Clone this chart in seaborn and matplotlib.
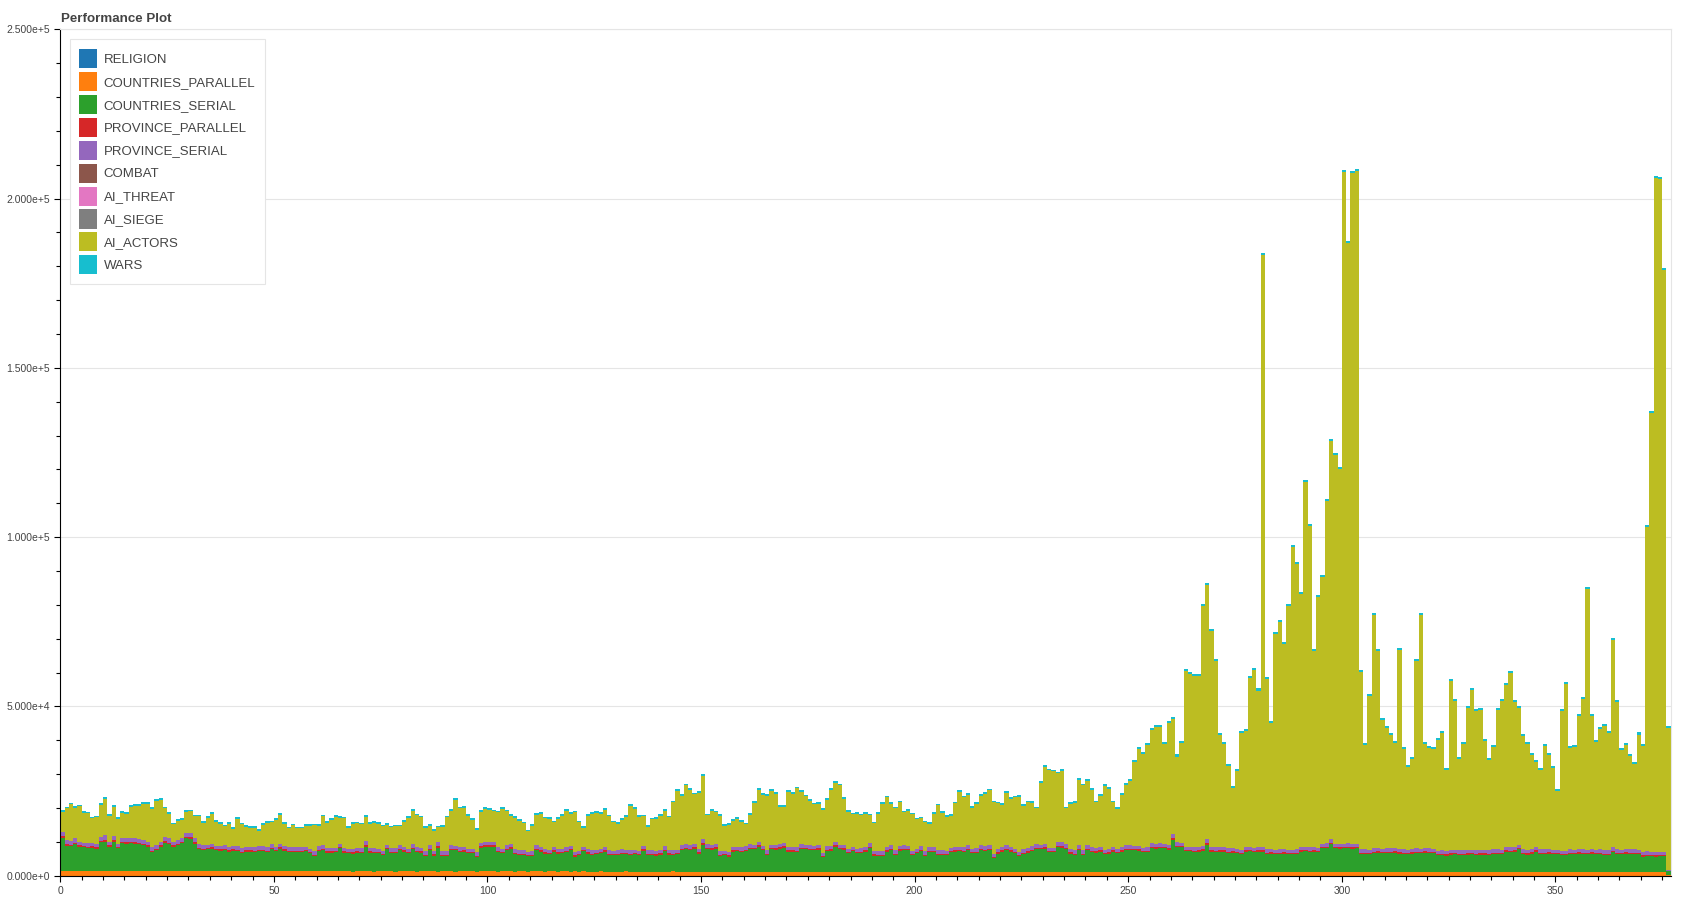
import matplotlib
matplotlib.use("Agg")
import matplotlib.pyplot as plt
import matplotlib.ticker as mticker
from matplotlib.patches import Patch
import numpy as np
import pandas as pd
import seaborn as sns

SERIES = [
    "RELIGION", "COUNTRIES_PARALLEL", "COUNTRIES_SERIAL", "PROVINCE_PARALLEL",
    "PROVINCE_SERIAL", "COMBAT", "AI_THREAT", "AI_SIEGE", "AI_ACTORS", "WARS",
]
COLORS = {
    "RELIGION": "#1f77b4",
    "COUNTRIES_PARALLEL": "#ff7f0e",
    "COUNTRIES_SERIAL": "#2ca02c",
    "PROVINCE_PARALLEL": "#d62728",
    "PROVINCE_SERIAL": "#9467bd",
    "COMBAT": "#8c564b",
    "AI_THREAT": "#e377c2",
    "AI_SIEGE": "#7f7f7f",
    "AI_ACTORS": "#bcbd22",
    "WARS": "#17becf",
}

# all values in thousands, one entry per sample (377 samples)
ai_actors = [
    6.1, 9.5, 10.8, 9.0, 10.4, 8.7, 8.7, 7.1, 7.7, 9.5, 10.9, 7.7, 8.7, 7.4, 7.4, 7.1, 9.1, 9.7, 9.8, 10.7,
    11.2, 11.2, 13.1, 12.3, 8.5, 7.2, 5.1, 5.7, 5.4, 6.2, 6.5, 6.4, 8.0, 6.6, 7.9, 8.8, 7.0, 6.6, 5.6, 6.8,
    5.1, 8.1, 7.1, 6.0, 5.7, 5.7, 4.5, 6.4, 7.2, 6.4, 7.8, 8.5, 6.6, 5.6, 6.5, 5.6, 5.6, 6.2, 6.8, 7.5,
    5.9, 8.4, 7.4, 8.2, 9.1, 7.7, 8.7, 6.1, 7.4, 7.3, 7.1, 7.2, 7.2, 7.5, 7.3, 7.3, 5.9, 6.2, 6.5, 5.6,
    7.5, 9.0, 9.9, 9.4, 9.0, 7.0, 5.7, 6.0, 4.4, 7.2, 10.0, 10.1, 13.5, 11.5, 11.5, 9.6, 8.5, 6.7, 9.1, 9.7,
    9.4, 8.9, 10.3, 11.7, 10.0, 8.3, 9.3, 8.8, 8.0, 6.0, 7.5, 8.9, 9.8, 9.0, 9.0, 7.2, 8.9, 9.6, 10.7, 9.3,
    11.7, 8.4, 5.5, 9.7, 10.8, 10.8, 10.2, 10.9, 10.0, 8.4, 7.9, 8.6, 9.7, 13.1, 12.0, 9.9, 8.6, 6.9, 9.1, 9.4,
    10.0, 10.4, 9.6, 14.2, 17.3, 14.6, 17.4, 16.3, 14.6, 16.5, 18.6, 8.5, 10.1, 9.3, 10.4, 7.3, 8.0, 7.7, 8.1, 7.6,
    6.5, 8.7, 12.4, 15.3, 14.9, 16.1, 15.9, 15.0, 10.9, 10.5, 16.2, 15.6, 17.4, 15.4, 14.2, 13.2, 12.2, 12.2, 12.6, 13.8,
    16.6, 17.4, 17.5, 13.7, 10.8, 9.5, 10.2, 9.7, 9.7, 8.1, 8.2, 11.0, 14.0, 14.6, 12.2, 12.4, 12.9, 9.7, 10.2, 10.7,
    8.6, 8.2, 8.6, 6.9, 9.9, 13.3, 11.1, 9.9, 9.3, 12.9, 16.2, 14.7, 14.8, 12.0, 13.2, 14.5, 15.4, 16.2, 15.2, 13.5,
    12.4, 15.4, 14.3, 15.1, 16.2, 12.8, 13.5, 12.9, 10.6, 18.2, 22.7, 22.8, 22.5, 20.2, 21.0, 10.6, 13.3, 14.1, 19.4, 19.2,
    19.1, 17.0, 13.5, 15.0, 18.9, 17.7, 13.2, 11.7, 15.3, 17.9, 19.1, 24.6, 28.5, 27.7, 30.1, 33.4, 34.4, 34.4, 29.4, 36.0,
    34.0, 25.3, 29.3, 51.9, 51.1, 50.5, 50.5, 70.9, 75.2, 63.7, 55.0, 33.1, 30.4, 24.2, 17.6, 23.0, 34.5, 34.3, 49.8, 52.4,
    46.2, 174.8, 50.3, 37.1, 63.6, 67.2, 60.4, 71.9, 89.4, 84.3, 74.6, 107.6, 94.8, 57.8, 73.9, 78.6, 101.0, 117.5, 114.8, 110.8,
    198.3, 177.3, 198.2, 198.7, 52.4, 30.9, 45.5, 68.8, 58.2, 37.9, 35.5, 33.5, 31.1, 58.9, 29.6, 24.4, 26.7, 55.4, 69.1, 30.8,
    29.5, 29.3, 32.6, 34.7, 23.9, 49.9, 43.9, 26.9, 31.3, 41.8, 47.2, 41.0, 41.3, 32.2, 26.7, 30.3, 41.2, 43.8, 47.7, 51.6,
    42.9, 40.2, 33.5, 31.3, 27.7, 25.1, 23.5, 30.6, 27.8, 24.0, 17.3, 41.3, 49.2, 29.8, 30.3, 39.2, 44.4, 76.9, 39.4, 31.7,
    35.4, 36.7, 34.6, 61.2, 43.5, 29.3, 30.6, 27.5, 25.3, 34.0, 31.3, 95.8, 129.5, 199.2, 198.7, 171.9, 42.1,
]

countries_serial = [
    9.6, 7.4, 7.4, 7.9, 7.2, 7.0, 6.7, 6.9, 6.6, 8.4, 8.6, 7.2, 8.6, 6.7, 8.1, 8.1, 8.3, 8.1, 7.9, 7.7,
    7.2, 5.7, 6.0, 7.2, 8.4, 8.0, 7.2, 7.7, 8.2, 9.6, 9.5, 8.1, 6.6, 6.1, 6.4, 6.6, 6.2, 6.0, 6.2, 5.7,
    6.0, 6.0, 5.4, 5.7, 5.7, 5.7, 5.9, 5.9, 5.7, 6.5, 5.8, 6.6, 6.1, 5.7, 5.7, 5.6, 5.6, 5.9, 5.2, 4.4,
    6.0, 6.2, 5.5, 5.5, 5.5, 6.8, 5.5, 5.3, 5.3, 5.5, 5.3, 7.3, 5.5, 5.5, 5.3, 4.7, 6.5, 5.5, 5.5, 6.3,
    5.8, 5.3, 6.5, 5.8, 5.5, 4.5, 6.3, 4.5, 7.1, 4.5, 4.5, 6.3, 6.3, 5.8, 5.8, 5.3, 5.3, 4.3, 7.0, 7.3,
    7.3, 7.3, 5.8, 5.3, 6.3, 6.7, 5.3, 4.8, 4.8, 4.5, 4.5, 6.3, 5.8, 5.3, 5.0, 5.8, 5.3, 5.3, 5.7, 6.3,
    4.3, 4.8, 5.9, 5.3, 4.9, 5.1, 5.3, 5.9, 5.0, 4.8, 4.9, 5.2, 5.0, 4.9, 5.1, 4.8, 6.1, 4.9, 5.0, 4.7,
    5.0, 6.1, 5.0, 4.8, 5.1, 6.4, 6.7, 6.5, 6.8, 5.4, 7.9, 6.7, 6.5, 6.8, 4.6, 4.8, 4.5, 5.9, 6.0, 5.8,
    6.1, 6.7, 6.6, 7.4, 6.4, 4.9, 6.7, 6.5, 6.8, 7.1, 5.9, 6.0, 5.8, 6.7, 6.6, 6.4, 6.3, 6.5, 4.4, 6.1,
    6.2, 7.4, 6.6, 6.5, 5.4, 6.1, 5.4, 5.5, 5.9, 6.9, 4.7, 4.6, 4.7, 5.9, 6.4, 4.9, 6.2, 6.4, 6.3, 4.9,
    5.4, 6.1, 4.6, 5.9, 5.8, 4.9, 5.0, 4.8, 5.7, 5.9, 6.0, 5.8, 6.4, 5.4, 5.5, 6.4, 6.1, 6.4, 3.9, 5.4,
    5.9, 6.4, 5.9, 5.4, 4.6, 5.2, 5.6, 6.1, 6.7, 6.6, 6.8, 5.8, 5.7, 7.2, 7.1, 6.7, 5.4, 4.9, 6.4, 4.9,
    6.4, 5.9, 5.6, 5.9, 5.1, 5.4, 5.9, 5.4, 5.9, 6.4, 6.4, 6.4, 6.3, 5.8, 5.9, 7.0, 6.9, 7.1, 7.0, 6.6,
    9.5, 7.4, 7.3, 6.0, 6.1, 5.9, 6.0, 6.3, 8.1, 6.0, 5.9, 6.1, 6.0, 5.6, 5.7, 5.5, 5.2, 6.0, 6.1, 5.9,
    6.0, 6.0, 5.3, 5.4, 5.2, 5.3, 5.4, 5.3, 5.2, 5.3, 6.0, 6.1, 5.9, 6.0, 5.9, 7.0, 7.1, 8.2, 7.0, 6.9,
    7.0, 7.1, 6.9, 7.0, 5.3, 5.4, 5.2, 5.6, 5.7, 5.5, 5.6, 5.6, 5.7, 5.5, 5.3, 5.2, 5.4, 5.6, 5.5, 5.7,
    5.6, 5.6, 4.9, 5.0, 4.8, 5.1, 5.2, 5.0, 5.1, 5.1, 5.2, 5.0, 5.1, 5.1, 5.0, 5.3, 5.4, 5.2, 6.0, 5.9,
    6.0, 6.7, 5.3, 5.2, 5.4, 6.0, 5.3, 5.3, 5.4, 5.2, 5.3, 4.9, 4.9, 5.3, 5.2, 5.4, 5.3, 5.3, 5.4, 5.2,
    5.3, 5.0, 5.0, 6.0, 5.3, 5.2, 5.4, 5.3, 5.3, 5.2, 4.6, 4.7, 4.6, 4.5, 4.6, 4.6, 1.0,
]

countries_parallel = [
    1.5, 1.5, 1.4, 1.5, 1.4, 1.4, 1.5, 1.4, 1.4, 1.5, 1.5, 1.4, 1.4, 1.4, 1.5, 1.4, 1.4, 1.4, 1.5, 1.4,
    1.4, 1.4, 1.5, 1.4, 1.4, 1.4, 1.4, 1.3, 1.4, 1.4, 1.4, 1.4, 1.3, 1.4, 1.4, 1.4, 1.3, 1.4, 1.4, 1.4,
    1.4, 1.3, 1.4, 1.4, 1.4, 1.3, 1.4, 1.4, 1.3, 1.4, 1.4, 1.4, 1.3, 1.4, 1.3, 1.4, 1.4, 1.3, 1.4, 1.4,
    1.3, 1.3, 1.3, 1.3, 1.4, 1.3, 1.3, 1.3, 1.2, 1.3, 1.3, 1.3, 1.3, 1.2, 1.3, 1.3, 1.3, 1.3, 1.2, 1.3,
    1.3, 1.3, 1.3, 1.2, 1.3, 1.3, 1.3, 1.3, 1.2, 1.3, 1.3, 1.3, 1.2, 1.3, 1.3, 1.3, 1.3, 1.2, 1.3, 1.3,
    1.3, 1.3, 1.2, 1.3, 1.3, 1.3, 1.2, 1.3, 1.3, 1.2, 1.3, 1.3, 1.3, 1.2, 1.3, 1.3, 1.2, 1.3, 1.3, 1.2,
    1.3, 1.2, 1.3, 1.2, 1.2, 1.2, 1.3, 1.2, 1.2, 1.2, 1.2, 1.2, 1.3, 1.2, 1.2, 1.2, 1.2, 1.2, 1.1, 1.2,
    1.2, 1.2, 1.2, 1.3, 1.2, 1.2, 1.2, 1.2, 1.2, 1.1, 1.2, 1.2, 1.2, 1.2, 1.2, 1.2, 1.1, 1.2, 1.2, 1.2,
    1.2, 1.2, 1.2, 1.2, 1.1, 1.2, 1.2, 1.2, 1.2, 1.2, 1.2, 1.1, 1.2, 1.2, 1.2, 1.2, 1.2, 1.2, 1.1, 1.2,
    1.2, 1.2, 1.2, 1.2, 1.2, 1.1, 1.2, 1.2, 1.2, 1.2, 1.2, 1.2, 1.1, 1.2, 1.2, 1.2, 1.2, 1.2, 1.2, 1.1,
    1.2, 1.2, 1.2, 1.2, 1.2, 1.2, 1.1, 1.2, 1.2, 1.2, 1.2, 1.2, 1.1, 1.2, 1.2, 1.2, 1.2, 1.2, 1.2, 1.1,
    1.2, 1.2, 1.2, 1.2, 1.1, 1.2, 1.2, 1.2, 1.2, 1.2, 1.2, 1.1, 1.2, 1.2, 1.2, 1.2, 1.1, 1.2, 1.2, 1.2,
    1.2, 1.1, 1.2, 1.2, 1.2, 1.1, 1.2, 1.2, 1.2, 1.2, 1.2, 1.1, 1.1, 1.1, 1.1, 1.2, 1.1, 1.1, 1.1, 1.1,
    1.1, 1.1, 1.1, 1.2, 1.1, 1.1, 1.1, 1.1, 1.1, 1.1, 1.1, 1.0, 1.1, 1.1, 1.1, 1.1, 1.1, 1.1, 1.1, 1.0,
    1.1, 1.1, 1.1, 1.1, 1.1, 1.1, 1.1, 1.0, 1.1, 1.1, 1.1, 1.1, 1.1, 1.1, 1.0, 1.1, 1.1, 1.1, 1.1, 1.1,
    1.1, 1.1, 1.1, 1.1, 1.1, 1.0, 1.1, 1.1, 1.1, 1.1, 1.1, 1.1, 1.1, 1.0, 1.1, 1.1, 1.1, 1.1, 1.1, 1.1,
    1.1, 1.0, 1.1, 1.1, 1.1, 1.1, 1.1, 1.1, 1.0, 1.1, 1.1, 1.1, 1.1, 1.1, 1.1, 1.1, 1.0, 1.1, 1.1, 1.1,
    1.1, 1.1, 1.1, 1.0, 1.1, 1.1, 1.1, 1.1, 1.1, 1.1, 1.0, 1.1, 1.1, 1.1, 1.1, 1.1, 1.1, 1.0, 1.1, 1.1,
    1.1, 1.1, 1.1, 1.0, 1.1, 1.1, 1.1, 1.1, 1.1, 1.1, 1.0, 1.1, 1.1, 1.1, 1.1, 1.1, 0.3,
]

province_parallel = [
    0.5, 0.4, 0.4, 0.4, 0.4, 0.4, 0.3, 0.4, 0.4, 0.4, 0.5, 0.4, 0.4, 0.3, 0.4, 0.4, 0.4, 0.4, 0.4, 0.4,
    0.4, 0.3, 0.4, 0.4, 0.4, 0.4, 0.4, 0.4, 0.4, 0.5, 0.4, 0.4, 0.4, 0.4, 0.3, 0.4, 0.4, 0.4, 0.4, 0.4,
    0.4, 0.4, 0.3, 0.4, 0.4, 0.4, 0.4, 0.4, 0.4, 0.4, 0.4, 0.4, 0.4, 0.3, 0.4, 0.4, 0.4, 0.4, 0.4, 0.4,
    0.4, 0.4, 0.4, 0.4, 0.4, 0.3, 0.4, 0.4, 0.4, 0.4, 0.5, 0.4, 0.4, 0.4, 0.4, 0.4, 0.4, 0.3, 0.4, 0.4,
    0.4, 0.4, 0.4, 0.4, 0.4, 0.4, 0.4, 0.5, 0.4, 0.4, 0.4, 0.4, 0.4, 0.3, 0.4, 0.4, 0.4, 0.4, 0.4, 0.4,
    0.4, 0.4, 0.4, 0.4, 0.4, 0.4, 0.3, 0.4, 0.4, 0.4, 0.4, 0.4, 0.4, 0.4, 0.4, 0.5, 0.4, 0.4, 0.4, 0.4,
    0.4, 0.4, 0.4, 0.4, 0.4, 0.4, 0.4, 0.4, 0.3, 0.4, 0.4, 0.4, 0.4, 0.4, 0.4, 0.4, 0.5, 0.4, 0.4, 0.4,
    0.4, 0.4, 0.4, 0.4, 0.4, 0.4, 0.4, 0.3, 0.4, 0.4, 0.5, 0.4, 0.4, 0.4, 0.4, 0.4, 0.4, 0.4, 0.4, 0.4,
    0.4, 0.4, 0.4, 0.4, 0.4, 0.4, 0.3, 0.4, 0.4, 0.4, 0.4, 0.4, 0.4, 0.4, 0.4, 0.4, 0.4, 0.4, 0.3, 0.4,
    0.4, 0.4, 0.4, 0.4, 0.4, 0.4, 0.4, 0.4, 0.4, 0.5, 0.4, 0.4, 0.4, 0.4, 0.4, 0.4, 0.4, 0.4, 0.4, 0.4,
    0.4, 0.4, 0.4, 0.3, 0.4, 0.4, 0.4, 0.4, 0.4, 0.4, 0.4, 0.4, 0.4, 0.4, 0.4, 0.4, 0.4, 0.4, 0.4, 0.4,
    0.4, 0.4, 0.4, 0.4, 0.4, 0.4, 0.4, 0.4, 0.4, 0.4, 0.4, 0.4, 0.4, 0.5, 0.5, 0.4, 0.4, 0.4, 0.4, 0.4,
    0.4, 0.4, 0.4, 0.4, 0.4, 0.4, 0.4, 0.4, 0.4, 0.4, 0.4, 0.4, 0.4, 0.4, 0.4, 0.4, 0.4, 0.4, 0.4, 0.4,
    0.5, 0.4, 0.4, 0.4, 0.4, 0.4, 0.4, 0.4, 0.5, 0.4, 0.4, 0.4, 0.4, 0.4, 0.4, 0.4, 0.4, 0.4, 0.4, 0.4,
    0.4, 0.4, 0.4, 0.4, 0.4, 0.4, 0.4, 0.4, 0.4, 0.4, 0.4, 0.4, 0.4, 0.4, 0.4, 0.4, 0.4, 0.5, 0.4, 0.4,
    0.4, 0.4, 0.4, 0.4, 0.4, 0.4, 0.4, 0.4, 0.4, 0.4, 0.4, 0.4, 0.4, 0.4, 0.4, 0.4, 0.4, 0.4, 0.4, 0.4,
    0.4, 0.4, 0.4, 0.4, 0.4, 0.4, 0.4, 0.4, 0.4, 0.4, 0.4, 0.4, 0.4, 0.4, 0.4, 0.4, 0.4, 0.4, 0.4, 0.4,
    0.4, 0.4, 0.4, 0.4, 0.4, 0.4, 0.4, 0.4, 0.4, 0.4, 0.4, 0.4, 0.4, 0.4, 0.4, 0.4, 0.4, 0.4, 0.4, 0.4,
    0.4, 0.4, 0.4, 0.4, 0.4, 0.4, 0.4, 0.4, 0.4, 0.4, 0.4, 0.4, 0.4, 0.4, 0.4, 0.4, 0.1,
]

province_serial = [
    1.2, 1.1, 1.1, 1.3, 1.1, 1.0, 1.2, 1.1, 1.1, 1.2, 1.3, 0.9, 1.3, 1.0, 1.2, 1.2, 1.1, 1.1, 1.1, 1.0,
    1.0, 1.1, 1.1, 1.1, 1.2, 1.2, 1.1, 1.1, 1.1, 1.2, 1.2, 1.2, 1.2, 1.1, 1.0, 1.0, 1.0, 1.0, 1.0, 1.1,
    1.0, 1.0, 1.0, 1.0, 1.0, 1.0, 1.0, 1.0, 1.0, 1.1, 1.0, 1.1, 1.0, 1.0, 1.0, 1.0, 1.0, 1.0, 1.0, 1.2,
    1.1, 1.2, 1.0, 1.0, 1.0, 1.0, 1.0, 1.0, 1.0, 1.0, 1.0, 1.2, 1.0, 1.0, 1.0, 0.9, 1.0, 1.0, 1.0, 1.0,
    1.0, 1.0, 1.1, 1.0, 1.0, 1.0, 1.0, 1.0, 1.2, 1.0, 1.0, 1.0, 1.0, 1.0, 1.0, 1.0, 1.0, 1.0, 1.0, 1.1,
    1.1, 1.1, 1.0, 1.0, 1.0, 1.0, 1.0, 1.0, 1.0, 1.0, 1.0, 1.0, 1.0, 1.0, 1.0, 1.0, 1.0, 1.0, 1.0, 1.0,
    1.0, 1.0, 1.0, 1.0, 1.0, 1.0, 1.0, 1.1, 1.0, 1.0, 1.0, 1.0, 1.0, 1.0, 1.0, 1.0, 1.1, 1.0, 1.0, 1.0,
    1.0, 1.1, 1.0, 1.0, 1.0, 1.0, 1.0, 1.0, 1.0, 1.0, 1.2, 1.0, 1.0, 1.0, 1.0, 1.0, 1.0, 1.0, 1.0, 1.0,
    1.0, 1.0, 1.0, 1.1, 1.0, 1.0, 1.0, 1.0, 1.0, 1.1, 1.0, 1.0, 1.0, 1.0, 1.0, 1.0, 1.0, 1.0, 1.0, 1.0,
    1.0, 1.1, 1.0, 1.0, 1.0, 1.0, 1.0, 1.0, 1.0, 1.1, 1.0, 1.0, 1.0, 1.0, 1.0, 1.0, 1.0, 1.0, 1.0, 1.0,
    1.0, 1.0, 1.0, 1.0, 1.0, 1.0, 1.0, 1.0, 1.0, 1.0, 1.0, 1.0, 1.1, 1.0, 1.0, 1.0, 1.0, 1.0, 1.0, 1.0,
    1.0, 1.0, 1.0, 1.0, 1.0, 1.0, 1.0, 1.0, 1.0, 1.0, 1.0, 1.0, 1.0, 1.1, 1.1, 1.0, 1.0, 1.0, 1.0, 1.0,
    1.0, 1.0, 1.0, 1.0, 1.0, 1.0, 1.0, 1.0, 1.0, 1.0, 1.0, 1.0, 1.0, 1.0, 1.0, 1.0, 1.0, 1.0, 1.0, 1.0,
    1.1, 1.0, 1.0, 1.0, 1.0, 1.0, 1.0, 1.0, 1.1, 1.0, 1.0, 1.0, 1.0, 1.0, 1.0, 1.0, 1.0, 1.0, 1.0, 1.0,
    1.0, 1.0, 1.0, 1.0, 1.0, 1.0, 1.0, 1.0, 1.0, 1.0, 1.0, 1.0, 1.0, 1.0, 1.0, 1.0, 1.0, 1.1, 1.0, 1.0,
    1.0, 1.0, 1.0, 1.0, 1.0, 1.0, 1.0, 1.0, 1.0, 1.0, 1.0, 1.0, 1.0, 1.0, 1.0, 1.0, 1.0, 1.0, 1.0, 1.0,
    1.0, 1.0, 1.0, 1.0, 1.0, 1.0, 1.0, 1.0, 1.0, 1.0, 1.0, 1.0, 1.0, 1.0, 1.0, 1.0, 1.0, 1.0, 1.0, 1.0,
    1.0, 1.0, 1.0, 1.0, 1.0, 1.0, 1.0, 1.0, 1.0, 1.0, 1.0, 1.0, 1.0, 1.0, 1.0, 1.0, 1.0, 1.0, 1.0, 1.0,
    1.0, 1.0, 1.0, 1.0, 1.0, 1.0, 1.0, 1.0, 1.0, 1.0, 1.0, 1.0, 1.0, 1.0, 1.0, 1.0, 0.2,
]

wars = [
    0.5, 0.5, 0.5, 0.5, 0.5, 0.5, 0.5, 0.5, 0.5, 0.5, 0.5, 0.5, 0.5, 0.5, 0.5, 0.5, 0.5, 0.5, 0.5, 0.5,
    0.5, 0.5, 0.5, 0.5, 0.5, 0.5, 0.5, 0.5, 0.5, 0.5, 0.5, 0.5, 0.5, 0.5, 0.5, 0.5, 0.5, 0.5, 0.5, 0.5,
    0.5, 0.5, 0.5, 0.5, 0.5, 0.5, 0.5, 0.5, 0.5, 0.5, 0.5, 0.5, 0.5, 0.5, 0.5, 0.5, 0.5, 0.5, 0.5, 0.5,
    0.5, 0.5, 0.5, 0.5, 0.5, 0.5, 0.5, 0.5, 0.5, 0.5, 0.5, 0.5, 0.5, 0.5, 0.5, 0.5, 0.5, 0.5, 0.5, 0.5,
    0.5, 0.5, 0.5, 0.5, 0.5, 0.5, 0.5, 0.5, 0.5, 0.5, 0.5, 0.5, 0.5, 0.5, 0.5, 0.5, 0.5, 0.5, 0.5, 0.5,
    0.5, 0.5, 0.5, 0.5, 0.5, 0.5, 0.5, 0.5, 0.5, 0.5, 0.5, 0.5, 0.5, 0.5, 0.5, 0.5, 0.5, 0.5, 0.5, 0.5,
    0.5, 0.5, 0.5, 0.5, 0.5, 0.5, 0.5, 0.5, 0.5, 0.5, 0.5, 0.5, 0.5, 0.5, 0.5, 0.5, 0.5, 0.5, 0.5, 0.5,
    0.5, 0.5, 0.5, 0.5, 0.5, 0.5, 0.5, 0.5, 0.5, 0.5, 0.5, 0.5, 0.5, 0.5, 0.5, 0.5, 0.5, 0.5, 0.5, 0.5,
    0.5, 0.5, 0.5, 0.5, 0.5, 0.5, 0.5, 0.5, 0.5, 0.5, 0.5, 0.5, 0.5, 0.5, 0.5, 0.5, 0.5, 0.5, 0.5, 0.5,
    0.5, 0.5, 0.5, 0.5, 0.5, 0.5, 0.5, 0.5, 0.5, 0.5, 0.5, 0.5, 0.5, 0.5, 0.5, 0.5, 0.5, 0.5, 0.5, 0.5,
    0.5, 0.5, 0.5, 0.5, 0.5, 0.5, 0.5, 0.5, 0.5, 0.5, 0.5, 0.5, 0.5, 0.5, 0.5, 0.5, 0.5, 0.5, 0.5, 0.5,
    0.5, 0.5, 0.5, 0.5, 0.5, 0.5, 0.5, 0.5, 0.5, 0.5, 0.5, 0.5, 0.5, 0.5, 0.5, 0.5, 0.5, 0.5, 0.5, 0.5,
    0.5, 0.5, 0.5, 0.5, 0.5, 0.5, 0.5, 0.5, 0.5, 0.5, 0.5, 0.6, 0.6, 0.6, 0.6, 0.6, 0.6, 0.6, 0.6, 0.6,
    0.6, 0.6, 0.6, 0.6, 0.6, 0.6, 0.6, 0.6, 0.6, 0.6, 0.6, 0.6, 0.6, 0.6, 0.6, 0.6, 0.6, 0.6, 0.6, 0.6,
    0.6, 0.6, 0.6, 0.6, 0.6, 0.6, 0.6, 0.6, 0.6, 0.6, 0.6, 0.6, 0.6, 0.6, 0.6, 0.6, 0.6, 0.6, 0.6, 0.6,
    0.6, 0.6, 0.6, 0.6, 0.6, 0.6, 0.6, 0.6, 0.6, 0.6, 0.6, 0.6, 0.6, 0.6, 0.6, 0.6, 0.6, 0.6, 0.6, 0.6,
    0.6, 0.6, 0.6, 0.6, 0.6, 0.6, 0.6, 0.6, 0.6, 0.6, 0.6, 0.6, 0.6, 0.6, 0.6, 0.6, 0.6, 0.6, 0.6, 0.6,
    0.6, 0.6, 0.6, 0.6, 0.6, 0.6, 0.6, 0.6, 0.6, 0.6, 0.6, 0.6, 0.6, 0.6, 0.6, 0.6, 0.6, 0.6, 0.6, 0.6,
    0.6, 0.6, 0.6, 0.6, 0.6, 0.6, 0.6, 0.6, 0.6, 0.6, 0.6, 0.6, 0.6, 0.6, 0.6, 0.6, 0.5,
]

N_BARS = len(ai_actors)
# these four never show up above zero in the picture
religion = [0.0] * N_BARS
combat = [0.0] * N_BARS
ai_threat = [0.0] * N_BARS
ai_siege = [0.0] * N_BARS

VALUES = {
    "RELIGION": religion,
    "COUNTRIES_PARALLEL": countries_parallel,
    "COUNTRIES_SERIAL": countries_serial,
    "PROVINCE_PARALLEL": province_parallel,
    "PROVINCE_SERIAL": province_serial,
    "COMBAT": combat,
    "AI_THREAT": ai_threat,
    "AI_SIEGE": ai_siege,
    "AI_ACTORS": ai_actors,
    "WARS": wars,
}

TEXT = "#444444"
GRID = "#e5e5e5"


def bokeh_sci(v, pos):
    mant, exp = f"{v:.3e}".split("e")
    return f"{mant}e{exp[0]}{int(exp[1:])}"


def main():
    sns.set_theme(style="white")
    plt.rcParams["font.family"] = ["Liberation Sans", "DejaVu Sans"]

    df = pd.DataFrame({
        "step": np.tile(np.arange(N_BARS) + 0.5, len(SERIES)),
        "series": np.repeat(SERIES, N_BARS),
        "value": np.concatenate([np.asarray(VALUES[s], dtype=float) * 1000 for s in SERIES]),
    })

    fig = plt.figure(figsize=(17, 9), dpi=100)
    ax = fig.add_axes([60.3 / 1700, 24.3 / 900, 1610.4 / 1700, 846.4 / 900])

    # seaborn puts the first hue level on top of the stack, so feed it reversed
    sns.histplot(
        data=df, x="step", weights="value", hue="series",
        hue_order=SERIES[::-1], palette=COLORS, multiple="stack",
        binwidth=1, binrange=(0, N_BARS), element="bars",
        alpha=1, linewidth=0, legend=False, ax=ax,
    )

    ax.set_xlim(0, N_BARS)
    ax.set_ylim(0, 250000)
    ax.set_xlabel("")
    ax.set_ylabel("")

    ax.xaxis.set_major_locator(mticker.MultipleLocator(50))
    ax.xaxis.set_minor_locator(mticker.MultipleLocator(5))
    ax.yaxis.set_major_locator(mticker.MultipleLocator(50000))
    ax.yaxis.set_minor_locator(mticker.MultipleLocator(10000))
    ax.yaxis.set_major_formatter(mticker.FuncFormatter(bokeh_sci))

    ax.tick_params(which="major", direction="out", length=4.5, width=0.8,
                   color="black", labelsize=7.5, labelcolor=TEXT, pad=3)
    ax.tick_params(which="minor", direction="out", length=3, width=0.8, color="black")
    ax.tick_params(left=True, bottom=True, which="both")

    for side in ("left", "bottom"):
        ax.spines[side].set_color("black")
        ax.spines[side].set_linewidth(0.8)
    for side in ("top", "right"):
        ax.spines[side].set_color(GRID)
        ax.spines[side].set_linewidth(0.8)

    ax.grid(axis="y", color=GRID, lw=0.8)
    ax.grid(axis="x", visible=False)
    ax.set_axisbelow(True)

    handles = [Patch(facecolor=COLORS[s], edgecolor="none", label=s) for s in SERIES]
    leg = ax.legend(
        handles=handles, loc="upper left", bbox_to_anchor=(0.006, 0.988),
        borderaxespad=0, fontsize=9.5, frameon=True, fancybox=False,
        edgecolor=GRID, framealpha=1, handlelength=1.3, handleheight=1.85,
        handletextpad=0.55, labelspacing=0.29, borderpad=0.72,
    )
    leg.get_frame().set_linewidth(0.8)
    for t in leg.get_texts():
        t.set_color(TEXT)

    fig.text(61 / 1700, 1 - 18.5 / 900, "Performance Plot", fontsize=9.6,
             fontweight="bold", color=TEXT, ha="left", va="center")

    fig.savefig("out.png", dpi=100)
    plt.close(fig)


if __name__ == "__main__":
    main()
